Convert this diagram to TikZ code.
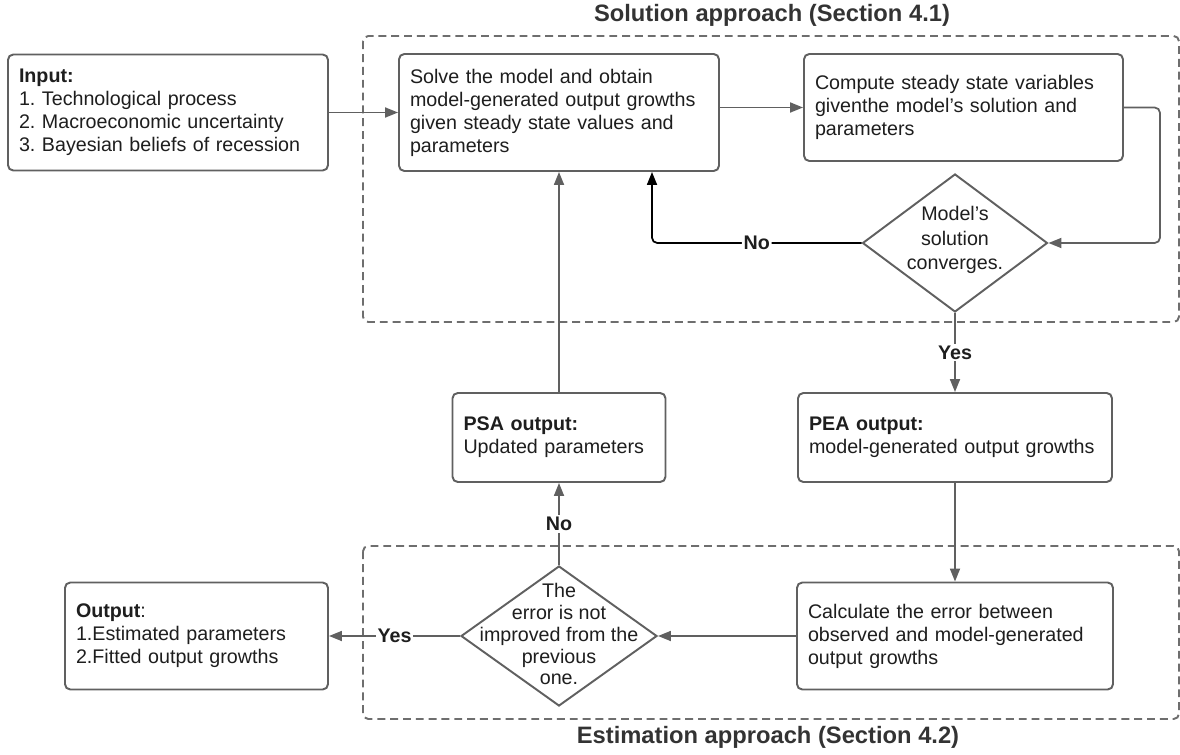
\documentclass[tikz,border=0pt]{standalone}
\usepackage{fontspec}
\setmainfont{Liberation Sans}
\usetikzlibrary{shapes.geometric,arrows.meta}
\definecolor{linegray}{RGB}{96,96,96}
\definecolor{dashgray}{RGB}{110,110,110}
\definecolor{textdark}{RGB}{30,30,30}
\definecolor{titlegray}{RGB}{51,51,51}
\frenchspacing

\begin{document}
\begin{tikzpicture}
  [every node/.style={font=\fontsize{11.2}{13.1}\selectfont, text=textdark},
   box/.style={draw=linegray, line width=1.1pt, rounded corners=3pt, fill=white,
     align=left, inner xsep=0.22cm, inner ysep=0pt},
   decision/.style={diamond, draw=linegray, line width=1.1pt, fill=white, inner sep=0pt},
   group/.style={draw=dashgray, line width=1.1pt, dash pattern=on 4.5pt off 2.8pt, rounded corners=3pt},
   title/.style={font=\fontsize{13.5}{16}\selectfont\bfseries, text=titlegray},
   arr/.style={color=linegray, line width=1pt, -{Triangle[length=0.26cm, width=0.2cm]}},
   lbl/.style={fill=white, inner sep=1pt, font=\fontsize{11.2}{13.1}\selectfont\bfseries}]
\useasboundingbox (0,0) rectangle (23.6,-15.1);

  % the two stages
  \draw[group] (7.26,-0.72) rectangle (23.58,-6.44);
  \draw[group] (7.26,-10.92) rectangle (23.58,-14.38);
  \node[title] (SolTitle) at (15.44,-0.3) {Solution approach (Section 4.1)};
  \node[title] (EstTitle) at (15.36,-14.74) {Estimation approach (Section 4.2)};

  \node[box, text width=5.96cm, minimum height=2.32cm] (Input) at (3.36,-2.25)
    {\textbf{Input:}\\1. Technological process\\2. Macroeconomic uncertainty\\3. Bayesian beliefs of recession};
  \node[box, text width=5.96cm, minimum height=2.34cm] (Solve) at (11.18,-2.25)
    {Solve the model and obtain\\model-generated output growths\\given steady state values and\\parameters};
  \node[box, text width=5.94cm, minimum height=2.14cm] (Compute) at (19.27,-2.15)
    {Compute steady state variables\\giventhe model's solution and\\parameters};
  \node[decision, minimum width=3.7cm, minimum height=2.76cm,
    label={[align=center, yshift=0.06cm, font=\fontsize{11.2}{14}\selectfont]center:Model's\\solution\\converges.}]
    (Conv) at (19.1,-4.86) {};

  \node[box, text width=3.82cm, minimum height=1.78cm] (PSA) at (11.18,-8.75)
    {\textbf{PSA output:}\\Updated parameters};
  \node[box, text width=5.84cm, minimum height=1.78cm] (PEA) at (19.1,-8.75)
    {\textbf{PEA output:}\\model-generated output growths};

  \node[box, text width=5.88cm, minimum height=2.14cm] (Calc) at (19.1,-12.72)
    {Calculate the error between\\observed and model-generated\\output growths};
  \node[decision, minimum width=3.92cm, minimum height=2.8cm,
    label={[align=center, yshift=0.04cm, font=\fontsize{11.2}{12.5}\selectfont]center:The\\error is not\\improved from the\\previous\\one.}]
    (Err) at (11.18,-12.72) {};
  \node[box, text width=4.82cm, minimum height=2.14cm] (Output) at (3.93,-12.72)
    {\textbf{Output}:\\1.Estimated parameters\\2.Fitted output growths};

  \foreach \from/\to in {Input/Solve, PSA/Solve, PEA/Calc, Calc/Err}
    \draw[arr] (\from) -- (\to);

  \draw[arr] (Compute.west -| Solve.east) -- (Compute.west);
  \draw[arr, rounded corners=3pt] (Compute.east) -- ++(0.72,0) |- (Conv.east);
  \coordinate (NoTurn) at (13.04,-4.86);
  \draw[arr, color=black, rounded corners=3pt] (Conv.west) -- node[lbl]{No} (NoTurn) -- (NoTurn |- Solve.south);
  \draw[arr] (Conv.south) -- node[lbl]{Yes} (PEA.north);
  \draw[arr] (Err.north) -- node[lbl]{No} (PSA.south);
  \draw[arr] (Err.west) -- node[lbl]{Yes} (Output.east);
\end{tikzpicture}
\end{document}
